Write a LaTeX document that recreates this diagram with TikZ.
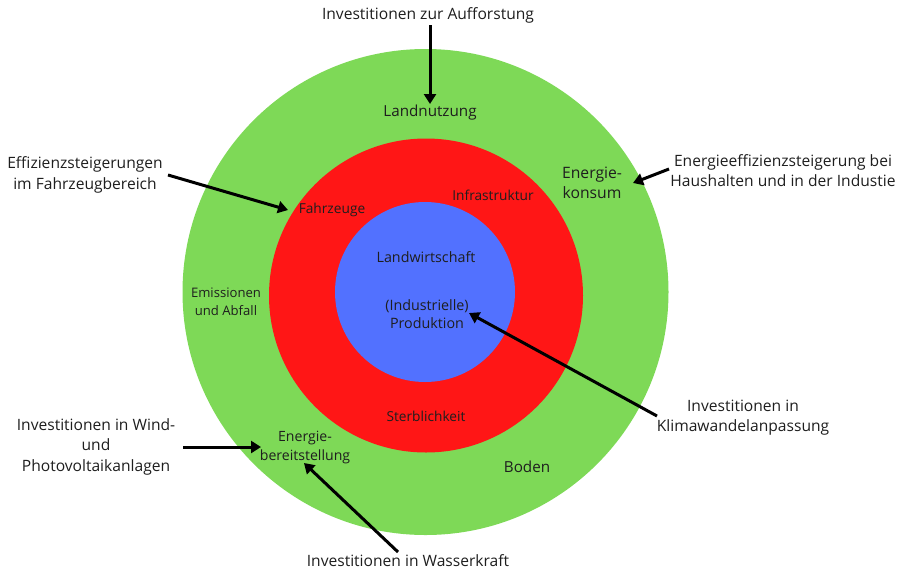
\documentclass[tikz,border=0pt]{standalone}
\usepackage{fontspec}
\setmainfont{Open Sans}
\usetikzlibrary{arrows.meta}

\definecolor{ringgreen}{HTML}{7ED957}
\definecolor{ringred}{HTML}{FF1616}
\definecolor{ringblue}{HTML}{5271FF}
\definecolor{ink}{HTML}{1E1E1E}

\newcommand{\fsz}[2]{\fontsize{#1}{#2}\selectfont}

\begin{document}
\begin{tikzpicture}[x=1pt,y=-1pt,
  outer/.style={text=ink, font=\fsz{15.6}{20.5}, align=center, inner sep=0pt},
  ringtxt/.style={text=ink, font=\fsz{15.2}{20}, align=center, inner sep=0pt},
  redtxt/.style={text=ink, font=\fsz{13.7}{18}, align=center, inner sep=0pt},
  bluetxt/.style={text=ink, font=\fsz{14.3}{18}, align=center, inner sep=0pt},
  push/.style={line width=3pt, draw=black, -{Triangle[length=10pt,width=12pt]}}]
\useasboundingbox (0,0) rectangle (908,574);

% concentric rings
\fill[ringgreen] (425.5,292) circle[radius=243];
\fill[ringred] (426,295.5) circle[radius=157];
\fill[ringblue] (425,292) circle[radius=90];

% outer ring labels
\node[ringtxt] (land) at (430,113) {Landnutzung};
\node[ringtxt, font=\fsz{15.7}{20}] (konsum) at (592,183) {Energie-\\konsum};
\node[ringtxt, font=\fsz{13.1}{18}] (emis) at (226,302) {Emissionen\\und Abfall};
\node[ringtxt, font=\fsz{14.1}{19}] (bereit) at (305,447.5) {Energie-\\bereitstellung};
\node[ringtxt] (boden) at (527,467) {Boden};

% middle ring labels
\node[redtxt] (infra) at (493,195) {Infrastruktur};
\node[redtxt] (fahr) at (332,210) {Fahrzeuge};
\node[redtxt] (sterb) at (426,416) {Sterblichkeit};

% inner disc labels
\node[bluetxt] (landw) at (426,257) {Landwirtschaft};
\node[bluetxt] (prod) at (427,314) {(Industrielle)\\Produktion};

% investment measures around the rings
\node[outer] (auff) at (428,15) {Investitionen zur Aufforstung};
\node[outer] (fzg) at (85,175) {Effizienzsteigerungen\\im Fahrzeugbereich};
\node[outer] (haus) at (783,170.5) {Energieeffizienzsteigerung bei\\Haushalten und in der Industie};
\node[outer] (wind) at (96,446.5) {Investitionen in Wind-\\und\\Photovoltaikanlagen};
\node[outer] (klima) at (743,417.5) {Investitionen in\\Klimawandelanpassung};
\node[outer] (wasser) at (408,561) {Investitionen in Wasserkraft};

% arrow end points
\coordinate (auffS) at (430,25);
\coordinate (auffT) at (430,104);
\coordinate (fzgS) at (168,175);
\coordinate (fzgT) at (288,210);
\coordinate (hausS) at (669,169);
\coordinate (hausT) at (633,183);
\coordinate (windS) at (183,447);
\coordinate (windT) at (261,447);
\coordinate (klimaS) at (657,416);
\coordinate (klimaT) at (469,313);
\coordinate (wasserS) at (398,552);
\coordinate (wasserT) at (304,463);

\draw[push] (auffS) -- (auffT);
\draw[push] (fzgS) -- (fzgT);
\draw[push] (hausS) -- (hausT);
\draw[push] (windS) -- (windT);
\draw[push] (klimaS) -- (klimaT);
\draw[push] (wasserS) -- (wasserT);
\end{tikzpicture}
\end{document}
